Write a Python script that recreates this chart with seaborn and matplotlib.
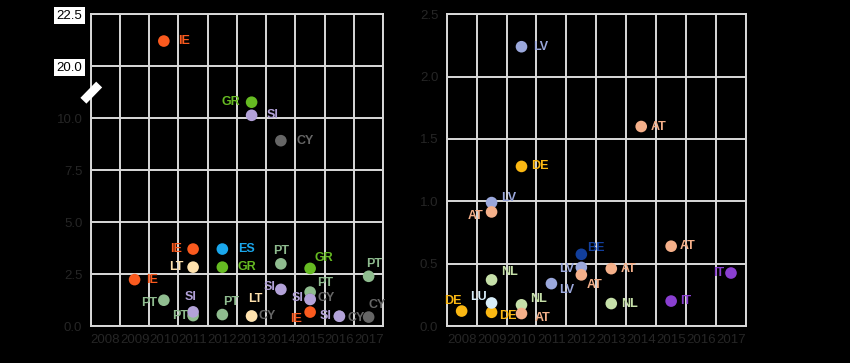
import numpy as np
import pandas as pd
import seaborn as sns
import matplotlib.pyplot as plt

sns.set_style('white')
plt.rcParams['font.family'] = ['Liberation Sans', 'DejaVu Sans']

years = [2008, 2009, 2010, 2011, 2012, 2013, 2014, 2015, 2016, 2017]

# left panel (values above 20 sit on the broken part of the axis)
left_country = ['IE', 'IE', 'PT', 'IE', 'LT', 'PT', 'SI', 'ES', 'GR', 'PT',
                'GR', 'SI', 'CY', 'LT', 'CY', 'PT', 'SI', 'GR', 'PT', 'CY',
                'SI', 'IE', 'CY', 'SI', 'PT', 'CY']
left_year = [2009, 2010, 2010, 2011, 2011, 2011, 2011, 2012, 2012, 2012,
             2013, 2013, 2013, 2013, 2014, 2014, 2014, 2015, 2015, 2015,
             2015, 2015, 2016, 2016, 2017, 2017]
left_value = [2.23, 21.2, 1.24, 3.70, 2.83, 0.50, 0.68, 3.70, 2.83, 0.55,
              10.76, 10.13, 0.48, 0.48, 8.91, 2.99, 1.76, 2.77, 1.63, 1.28,
              1.28, 0.67, 0.47, 0.47, 2.39, 0.43]

# right panel
right_country = ['DE', 'LV', 'AT', 'NL', 'DE', 'LU', 'LV', 'DE', 'NL', 'AT',
                 'LV', 'LV', 'BE', 'AT', 'AT', 'NL', 'AT', 'AT', 'IT', 'IT']
right_year = [2008, 2009, 2009, 2009, 2009, 2009, 2010, 2010, 2010, 2010,
              2011, 2012, 2012, 2012, 2013, 2013, 2014, 2015, 2015, 2017]
right_value = [0.12, 0.99, 0.915, 0.37, 0.11, 0.185, 2.24, 1.28, 0.17, 0.10,
               0.34, 0.47, 0.575, 0.41, 0.46, 0.18, 1.60, 0.64, 0.20, 0.425]

palette = {
    'IE': '#fa5a1e', 'GR': '#66bb22', 'SI': '#b3a2d9', 'CY': '#666666',
    'ES': '#1aa7ec', 'LT': '#ffe2ad', 'PT': '#8fbc8f', 'LV': '#9ba8dc',
    'AT': '#f5b08a', 'DE': '#fbb813', 'BE': '#123f9c', 'NL': '#c6e0a9',
    'LU': '#d9eefa', 'IT': '#8a3fd1',
}

# label offsets in points (dx, dy)
left_dx = [8.5, 10, -5, -8, -7, -3.5, -1.5, 11, 11, 6.5,
           -8.5, 11, 5, 3, 11, 0, -3.5, 3.5, 5, 5,
           -5, -10, 6, -6, 4, 6]
left_dy = [0, 0, -2, 0, 0, 0, 10.5, 0, 0, 9,
           0, 0, 0, 12.5, 0, 9.5, 1.5, 7.5, 6.5, 1,
           1, -5, -1.5, 0, 9, 9]
left_ha = ['left', 'left', 'right', 'right', 'right', 'right', 'center', 'left', 'left', 'center',
           'right', 'left', 'left', 'center', 'left', 'center', 'right', 'left', 'left', 'left',
           'right', 'center', 'left', 'right', 'center', 'center']

right_dx = [-6, 7, -5.5, 7, 5.5, -3.5, 8.5, 7, 6.5, 9.5,
            5.5, -5, 4.5, 4, 7, 7, 6.5, 6.5, 6.5, -4.5]
right_dy = [7, 3, -3, 5.5, -3, 4.5, 0, 0, 4.5, -3,
            -4.5, -1.5, 4.5, -7, 0, 0, 0, 0, 0, 0]
right_ha = ['center', 'left', 'right', 'left', 'left', 'right', 'left', 'left', 'left', 'left',
            'left', 'right', 'left', 'left', 'left', 'left', 'left', 'left', 'left', 'right']

grid_c = '#d9d9d9'
tick_c = '#262626'

left_df = pd.DataFrame({'country': left_country, 'year': left_year, 'value': left_value})
left_df['plot'] = np.where(left_df['value'] > 15, left_df['value'] - 7.5, left_df['value'])
right_df = pd.DataFrame({'country': right_country, 'year': right_year, 'value': right_value})
right_df['plot'] = right_df['value']

fig = plt.figure(figsize=(8.5, 3.63), dpi=100, facecolor='black')
ax1 = fig.add_axes([0.1067, 0.1019, 0.3442, 0.8595])
ax2 = fig.add_axes([0.5255, 0.1019, 0.3521, 0.8587])


def draw(ax, df, dx, dy, ha):
    ax.set_facecolor('black')
    sns.scatterplot(data=df, x='year', y='plot', hue='country', palette=palette,
                    s=70, linewidth=0, legend=False, ax=ax, zorder=3)
    for i, row in df.iterrows():
        ax.annotate(row['country'], (row['year'], row['plot']),
                    xytext=(dx[i], dy[i]), textcoords='offset points',
                    ha=ha[i], va='center', fontsize=9, fontweight='bold',
                    color=palette[row['country']], zorder=4)
    ax.set_xlim(2007.5, 2017.5)
    ax.set_xticks(years)
    ax.set_xticklabels([str(y) for y in years])
    ax.set_xticks(np.arange(2007.5, 2018, 1), minor=True)
    ax.grid(which='minor', axis='x', color=grid_c, lw=1.4)
    ax.grid(which='major', axis='y', color=grid_c, lw=1.4)
    ax.grid(which='major', axis='x', visible=False)
    ax.set_axisbelow(True)
    for s in ax.spines.values():
        s.set_color(grid_c)
        s.set_linewidth(1.4)
    ax.tick_params(which='both', length=0, colors=tick_c, labelsize=9.5, pad=6)
    ax.set_xlabel('')
    ax.set_ylabel('')


draw(ax1, left_df, left_dx, left_dy, left_ha)
draw(ax2, right_df, right_dx, right_dy, right_ha)

# left: broken y axis
ax1.set_ylim(0, 15)
ax1.set_yticks([0, 2.5, 5, 7.5, 10, 12.5, 15])
ax1.set_yticklabels(['0.0', '2.5', '5.0', '7.5', '10.0', '20.0', '22.5'])
for lab in ax1.get_yticklabels()[-2:]:
    lab.set_color('black')
    lab.set_bbox(dict(facecolor='white', edgecolor='none', pad=2))
ax1.plot([-0.025, 0.029], [0.722, 0.774], transform=ax1.transAxes, color='white',
         lw=6, solid_capstyle='butt', clip_on=False, zorder=5)

ax2.set_ylim(0, 2.5)
ax2.set_yticks([0, 0.5, 1.0, 1.5, 2.0, 2.5])
ax2.set_yticklabels(['0.0', '0.5', '1.0', '1.5', '2.0', '2.5'])

plt.savefig('out.png', dpi=100, facecolor='black')
